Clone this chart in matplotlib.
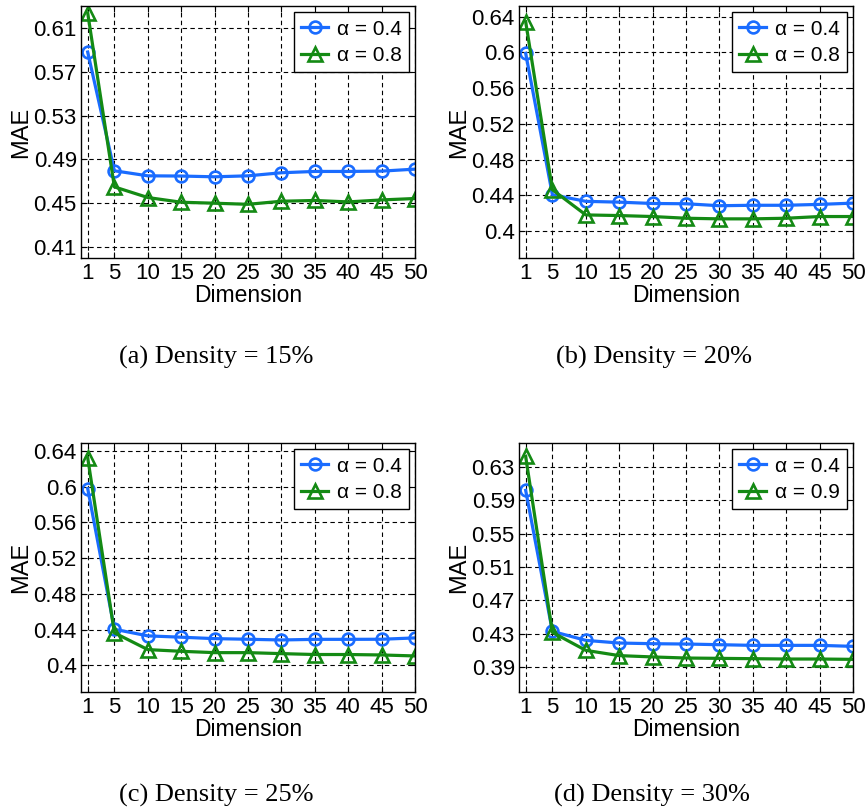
import matplotlib
matplotlib.use("Agg")
import matplotlib.pyplot as plt

plt.rcParams['font.family'] = ['Liberation Sans', 'DejaVu Sans']

dims = [1, 5, 10, 15, 20, 25, 30, 35, 40, 45, 50]

# density 15%
a_blue = [0.588, 0.4796, 0.475, 0.4748, 0.4741, 0.475, 0.4778, 0.479, 0.479, 0.4793, 0.4811]
a_green = [0.6237, 0.4649, 0.4552, 0.4509, 0.450, 0.449, 0.4518, 0.4525, 0.4512, 0.453, 0.4543]
# density 20%
b_blue = [0.599, 0.4408, 0.4334, 0.4325, 0.431, 0.4307, 0.4285, 0.429, 0.429, 0.430, 0.4314]
b_green = [0.6344, 0.4464, 0.4182, 0.4175, 0.4164, 0.4145, 0.4138, 0.4138, 0.4145, 0.4164, 0.4164]
# density 25%
c_blue = [0.598, 0.4403, 0.4329, 0.4314, 0.4298, 0.4291, 0.4283, 0.429, 0.429, 0.4291, 0.4306]
c_green = [0.6326, 0.4363, 0.4175, 0.4156, 0.4141, 0.4141, 0.413, 0.412, 0.412, 0.4115, 0.4104]
# density 30%
d_blue = [0.6021, 0.4328, 0.422, 0.4188, 0.418, 0.4176, 0.4168, 0.416, 0.416, 0.416, 0.4148]
d_green = [0.6428, 0.4316, 0.410, 0.4037, 0.4021, 0.4008, 0.4004, 0.400, 0.3996, 0.3996, 0.3992]

labels_blue = ["α = 0.4", "α = 0.4", "α = 0.4", "α = 0.4"]
labels_green = ["α = 0.8", "α = 0.8", "α = 0.8", "α = 0.9"]
captions = ["(a) Density = 15%", "(b) Density = 20%", "(c) Density = 25%", "(d) Density = 30%"]
yticks = [
    [0.41, 0.45, 0.49, 0.53, 0.57, 0.61],
    [0.4, 0.44, 0.48, 0.52, 0.56, 0.6, 0.64],
    [0.4, 0.44, 0.48, 0.52, 0.56, 0.6, 0.64],
    [0.39, 0.43, 0.47, 0.51, 0.55, 0.59, 0.63],
]
ytick_labels = [
    ["0.41", "0.45", "0.49", "0.53", "0.57", "0.61"],
    ["0.4", "0.44", "0.48", "0.52", "0.56", "0.6", "0.64"],
    ["0.4", "0.44", "0.48", "0.52", "0.56", "0.6", "0.64"],
    ["0.39", "0.43", "0.47", "0.51", "0.55", "0.59", "0.63"],
]
ylims = [(0.40, 0.63), (0.37, 0.652), (0.37, 0.649), (0.36, 0.659)]

blues = [a_blue, b_blue, c_blue, d_blue]
greens = [a_green, b_green, c_green, d_green]

W, H = 865, 810
fig = plt.figure(figsize=(W / 100, H / 100), dpi=100)

# axes boxes in pixels: left, top, right, bottom
boxes = [(81, 6, 415, 258), (519, 6, 853, 258), (81, 443, 415, 692), (519, 443, 853, 692)]
cap_pos = [(216, 357), (654, 357), (216, 795), (652, 795)]

blue = '#1a6cff'
green = '#148a14'

for i in range(4):
    l, t, r, b = boxes[i]
    ax = fig.add_axes([l / W, 1 - b / H, (r - l) / W, (b - t) / H])
    ax.plot(dims, blues[i], color=blue, lw=2.3, marker='o', ms=8.5, mfc='none', mew=1.9, label=labels_blue[i])
    ax.plot(dims, greens[i], color=green, lw=2.3, marker='^', ms=9.5, mfc='none', mew=1.9, label=labels_green[i])
    ax.set_xlim(0, 50)
    ax.set_ylim(*ylims[i])
    ax.set_xticks(dims)
    ax.set_yticks(yticks[i])
    ax.set_yticklabels(ytick_labels[i])
    ax.tick_params(direction='in', top=True, right=True, length=4, labelsize=16, width=0.8)
    ax.tick_params(axis='x', pad=3.5)
    ax.tick_params(axis='y', pad=3)
    ax.grid(True, color='black', linestyle=(0, (4, 3)), lw=0.8)
    for s in ax.spines.values():
        s.set_linewidth(1.0)
    ax.set_xlabel("Dimension", fontsize=16.5, labelpad=0)
    ax.set_ylabel("MAE", fontsize=17, labelpad=1)
    leg = ax.legend(loc='upper right', fontsize=15, fancybox=False, edgecolor='black',
                    framealpha=1, borderpad=0.35, handlelength=1.3, labelspacing=0.35,
                    handletextpad=0.4, borderaxespad=0.3)
    leg.get_frame().set_linewidth(1.0)
    cx, cy = cap_pos[i]
    fig.text(cx / W, 1 - cy / H, captions[i], ha='center', va='center',
             fontsize=19, family=['Liberation Serif', 'DejaVu Serif'])

fig.savefig("out.png", dpi=100)
